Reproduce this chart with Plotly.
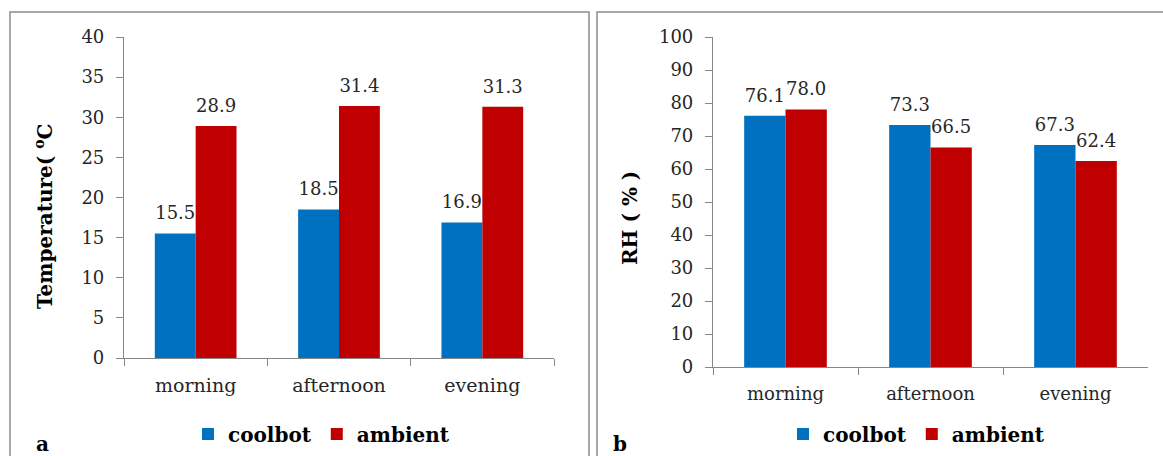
import plotly.graph_objects as go

categories = ["morning", "afternoon", "evening"]
temp_coolbot = [15.5, 18.5, 16.9]
temp_ambient = [28.9, 31.4, 31.3]
rh_coolbot = [76.1, 73.3, 67.3]
rh_ambient = [78.0, 66.5, 62.4]
series_names = ["coolbot", "ambient"]
temp_ticks = [0, 5, 10, 15, 20, 25, 30, 35, 40]
rh_ticks = [0, 10, 20, 30, 40, 50, 60, 70, 80, 90, 100]

BLUE = "#0070C0"
RED = "#C00000"
AXIS = "#868686"
TXT = "#262626"
SERIF = "DejaVu Serif"
W, H = 1163, 456

fig = go.Figure()

def add_panel(xa, ya, c_vals, a_vals, legend):
    for name, vals, col, og in [(series_names[0], c_vals, BLUE, "c"), (series_names[1], a_vals, RED, "a")]:
        fig.add_trace(go.Bar(x=categories, y=vals, name=name, marker_color=col,
                             marker_line_width=0, xaxis=xa, yaxis=ya, legend=legend,
                             offsetgroup=og, hoverinfo="skip"))
    for vals, og in [(c_vals, "c"), (a_vals, "a")]:
        fig.add_trace(go.Scatter(x=categories, y=vals, mode="markers+text",
                                 text=[f"{v:.1f}" for v in vals], textposition="top center",
                                 textfont=dict(family=SERIF, size=18, color=TXT),
                                 marker=dict(size=14, opacity=0), offsetgroup=og,
                                 xaxis=xa, yaxis=ya, showlegend=False, hoverinfo="skip",
                                 cliponaxis=False))

add_panel("x", "y", temp_coolbot, temp_ambient, "legend")
add_panel("x2", "y2", rh_coolbot, rh_ambient, "legend2")

def px(x):
    return x / W

def py(y):
    return 1 - y / H

xcommon = dict(type="category", showline=True, linecolor=AXIS, linewidth=1.2,
               ticks="outside", tickson="boundaries", ticklen=7, tickcolor=AXIS,
               showgrid=False, zeroline=False, ticklabelstandoff=10, automargin=False)
ycommon = dict(showline=True, linecolor=AXIS, linewidth=1.2, ticks="outside", ticklen=7,
               tickcolor=AXIS, showgrid=False, zeroline=False, ticklabelstandoff=8,
               automargin=False, tickfont=dict(family=SERIF, size=18, color=TXT))

fig.update_layout(
    width=W, height=H, margin=dict(l=0, r=0, t=0, b=0, autoexpand=False),
    paper_bgcolor="white", plot_bgcolor="white",
    barmode="group", bargap=0.43, scattermode="group", scattergap=0.43,
    xaxis=dict(domain=[px(124), px(554)], anchor="y",
               tickfont=dict(family=SERIF, size=19, color=TXT), **xcommon),
    yaxis=dict(domain=[py(358), py(37)], anchor="x", range=[0, 40],
               tickvals=temp_ticks, **ycommon),
    xaxis2=dict(domain=[px(713), px(1148)], anchor="y2",
                tickfont=dict(family=SERIF, size=18, color=TXT), **xcommon),
    yaxis2=dict(domain=[py(367), py(37)], anchor="x2", range=[0, 100],
                tickvals=rh_ticks, **ycommon),
    legend=dict(orientation="h", x=px(188), y=py(434), xanchor="left", yanchor="middle",
                font=dict(family=SERIF, size=20, color="black", weight="bold"),
                bgcolor="rgba(0,0,0,0)"),
    legend2=dict(orientation="h", x=px(783), y=py(434), xanchor="left", yanchor="middle",
                 font=dict(family=SERIF, size=20, color="black", weight="bold"),
                 bgcolor="rgba(0,0,0,0)"),
    showlegend=True,
)

# panel borders
for x0, x1 in [(10, 589), (597, 1175)]:
    fig.add_shape(type="rect", xref="paper", yref="paper", x0=px(x0), x1=px(x1),
                  y0=-0.05, y1=py(12), line=dict(color="#8c8c8c", width=1.5),
                  fillcolor="rgba(0,0,0,0)", layer="below")

# axis titles
fig.add_annotation(text="Temperature( <sup>o</sup>C", x=px(44), y=py(217), xref="paper", yref="paper",
                   textangle=-90, showarrow=False, xanchor="center", yanchor="middle",
                   font=dict(family=SERIF, size=20, color="black", weight="bold"))
fig.add_annotation(text="RH ( % )", x=px(630), y=py(218), xref="paper", yref="paper",
                   textangle=-90, showarrow=False, xanchor="center", yanchor="middle",
                   font=dict(family=SERIF, size=20, color="black", weight="bold"))
# panel letters
for letter, x in [("a", 34), ("b", 620)]:
    fig.add_annotation(text=letter, x=px(x), y=py(458), xref="paper", yref="paper",
                       yanchor="bottom", showarrow=False,
                       font=dict(family=SERIF, size=20, color="black", weight="bold"))

fig.write_html("out.html")
